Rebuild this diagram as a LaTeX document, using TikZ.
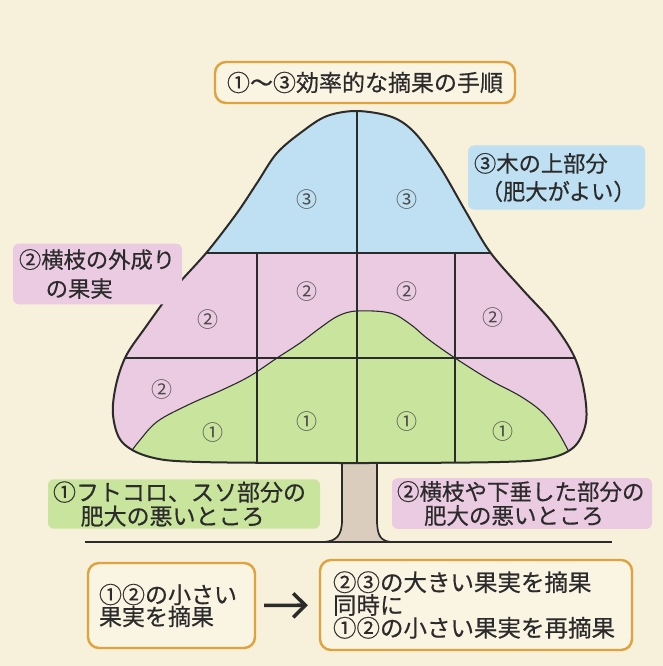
\documentclass[tikz,border=0pt]{standalone}
\usepackage{fontspec}
\newfontfamily\jp{Noto Sans CJK JP}[FakeBold=0.5]
\newfontfamily\jpn{Noto Sans CJK JP}
\usetikzlibrary{arrows.meta}
\definecolor{bg}{HTML}{F7F0DA}
\definecolor{boxbg}{HTML}{FAF4E2}
\definecolor{skyc}{HTML}{BEE0F2}
\definecolor{pinkc}{HTML}{EBCBE2}
\definecolor{greenc}{HTML}{C9E49C}
\definecolor{trunkc}{HTML}{DACDBD}
\definecolor{orangec}{HTML}{E1A23E}
\definecolor{ink}{HTML}{2B2B2B}
\definecolor{numc}{HTML}{4A4A4A}
\begin{document}
\begin{tikzpicture}[x=1pt,y=-1pt,
  crownshape/.style={insert path={plot[smooth cycle,tension=0.55] coordinates{
    (357,111) (392,117) (415,133) (440,167) (466,212) (490,252) (522,289)
    (552,322) (574,356) (584,390) (586,422) (575,446) (550,458) (500,462)
    (357,463) (200,462) (150,457) (122,442) (113,415) (116,385) (126,356)
    (145,328) (173,290) (207,252) (237,213) (257,183) (277,153) (303,131) (327,116)}}},
  greenedge/.style={insert path={plot[smooth,tension=0.6] coordinates{
    (128,456) (140,440) (158,421) (190,404) (222,390) (250,376) (277,358)
    (300,343) (320,328) (338,316) (357,311) (390,313) (410,324) (428,339)
    (455,358) (490,380) (520,396) (542,412) (558,432) (572,458)}}},
  gridline/.style={draw=ink,line width=1.1pt},
  outline/.style={draw=ink,line width=2pt},
  num/.style={font=\jpn\fontsize{21}{21}\selectfont,text=numc,inner sep=0pt},
  tag/.style={text=ink,align=left,rounded corners=6pt,inner xsep=6pt},
  framebox/.style={draw=orangec,line width=2.4pt,rounded corners=11pt,fill=boxbg,text=ink}]
\fill[bg] (0,0) rectangle (663,666);
\useasboundingbox (0,0) rectangle (663,666);

% trunk
\fill[trunkc] (342,460) -- (342,520) .. controls (342,536) and (336,542) .. (326,542)
  -- (389,542) .. controls (380,542) and (377,536) .. (377,520) -- (377,460) -- cycle;
\draw[ink,line width=1.7pt] (342,463) -- (342,520) .. controls (342,536) and (336,541) .. (324,542);
\draw[ink,line width=1.7pt] (377,463) -- (377,520) .. controls (377,536) and (381,541) .. (391,542);
\draw[ink,line width=1.7pt] (85,542) -- (612,542);

% crown
\begin{scope}
  \path[clip,crownshape];
  \fill[pinkc] (90,253) rectangle (610,480);
  \fill[skyc] (90,90) rectangle (610,253);
  \fill[greenc,greenedge] -- (610,490) -- (90,490) -- cycle;
  \draw[gridline] (90,253) -- (610,253);
  \draw[gridline] (90,358) -- (610,358);
  \draw[gridline] (357,90) -- (357,480);
  \draw[gridline] (257,253) -- (257,480);
  \draw[gridline] (455,253) -- (455,480);
  \draw[gridline,greenedge];
\end{scope}
\path[outline,crownshape];

% numbers
\node[num] (t1) at (307,200) {③};
\node[num] (t2) at (407,200) {③};
\node[num] (p1) at (208,320) {②};
\node[num] (p2) at (307,292) {②};
\node[num] (p3) at (407,292) {②};
\node[num] (p4) at (493,318) {②};
\node[num] (p5) at (162,390) {②};
\node[num] (g1) at (213,433) {①};
\node[num] (g2) at (307,422) {①};
\node[num] (g3) at (407,422) {①};
\node[num] (g4) at (503,432) {①};

% title
\node[framebox,minimum width=300pt,minimum height=41pt,inner sep=0pt,
  font=\jp\fontsize{23}{23}\selectfont] (title) at (365,82.5) {①～③効率的な摘果の手順};

% tags
\node[tag,fill=pinkc,text width=157pt,inner ysep=5.5pt,
  font=\jp\fontsize{22.3}{29}\selectfont] (lefttag) at (97.5,274)
  {②横枝の外成り\\\hspace*{1.2em}の果実};
\node[tag,fill=skyc,text width=165pt,inner ysep=7.5pt,
  font=\jp\fontsize{22.3}{28}\selectfont] (toptag) at (556.5,177.5)
  {③木の上部分\\\hspace*{0.3em}（肥大がよい）};
\node[tag,fill=greenc,text width=262pt,inner xsep=5pt,inner ysep=2pt,
  font=\jp\fontsize{23}{24}\selectfont] (greentag) at (184,504)
  {①フトコロ、スソ部分の\\\hspace*{1.2em}肥大の悪いところ};
\node[tag,fill=pinkc,text width=250pt,inner xsep=5pt,inner ysep=3pt,
  font=\jp\fontsize{22.5}{24}\selectfont] (pinktag) at (522,503.5)
  {②横枝や下垂した部分の\\\hspace*{1.2em}肥大の悪いところ};

% bottom boxes
\node[framebox,align=left,text width=145pt,inner xsep=11pt,minimum height=85pt,
  font=\jp\fontsize{23}{22}\selectfont] (lbox) at (171.5,605.5)
  {①②の小さい\\果実を摘果};
\node[framebox,align=left,text width=286pt,inner xsep=13pt,minimum height=90pt,
  font=\jp\fontsize{23.5}{21.5}\selectfont] (rbox) at (476,605)
  {②③の大きい果実を摘果\\同時に\\①②の小さい果実を再摘果};
\draw[ink,line width=3.6pt,-{Straight Barb[length=12pt,width=24pt]},
  shorten <=8pt,shorten >=11pt] (lbox) -- (rbox);
\end{tikzpicture}
\end{document}
